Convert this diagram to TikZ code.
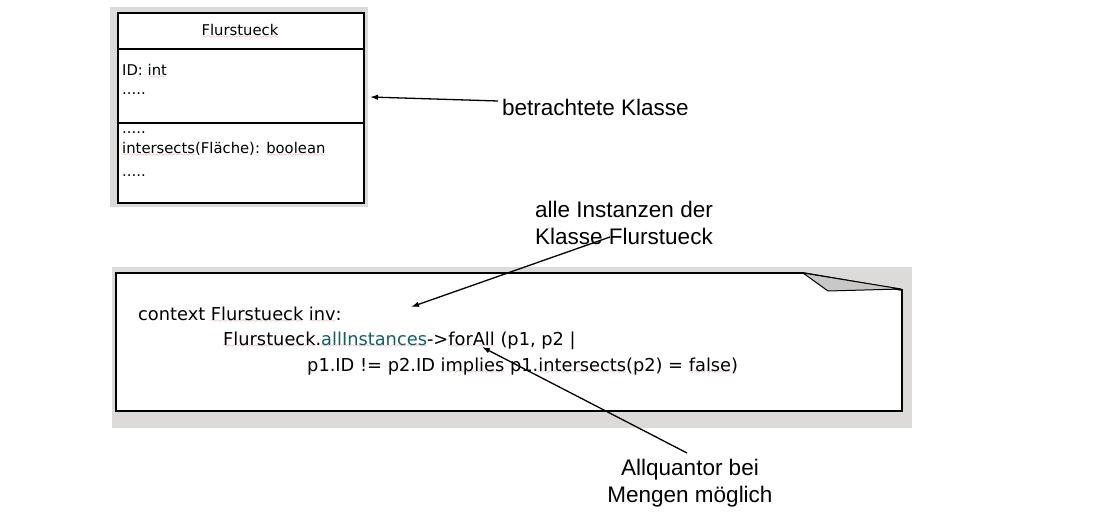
\documentclass[tikz,border=0pt]{standalone}
\usepackage{fontspec}
\usetikzlibrary{arrows.meta}
\setmainfont{DejaVu Sans}
\newfontfamily\annfont{Liberation Sans}
\font\mywavefont=lasy6 \relax
\definecolor{spellred}{RGB}{225,95,95}
\definecolor{bggray}{RGB}{221,218,218}
\definecolor{flapgray}{RGB}{200,200,200}
\definecolor{oclteal}{RGB}{20,95,100}
\newcommand\spl[1]{\setbox0\hbox{#1}\rlap{\textcolor{spellred}{\lower2.6pt\hbox to\wd0{\xleaders\hbox{\mywavefont\char58}\hfill}}}\box0\relax}
\tikzset{
  boxpart/.style={draw, fill=white, line width=1.8pt, minimum width=246pt, inner sep=0pt, anchor=north west},
  clstext/.style={anchor=base west, inner sep=0pt, font=\fontsize{14.8}{17}\selectfont},
  notetext/.style={anchor=base west, inner sep=0pt, font=\fontsize{17.8}{22}\selectfont},
  anntext/.style={inner sep=0pt, align=center, font=\annfont\fontsize{22.5}{26.5}\selectfont},
  pointer/.style={line width=1.3pt, -{Latex[length=8pt,width=5.5pt]}}
}
\begin{document}
\begin{tikzpicture}[x=1pt,y=-1pt]
\useasboundingbox (0,0) rectangle (1107,513);
% grey backdrops
\fill[bggray] (110,7) rectangle (368,207);
\fill[bggray] (112,267) rectangle (912,428);
% class box
\node[boxpart, minimum height=36pt] (hdr) at (117,12) {};
\node[boxpart, minimum height=74pt] (attr) at (117,48) {};
\node[boxpart, minimum height=80pt] (ops) at (117,122) {};
\node[anchor=base, inner sep=0pt, font=\fontsize{14.8}{17}\selectfont] (cname) at (240,36) {\spl{Flurstueck}};
\node[clstext] (a1) at (122,76) {ID: \spl{int}};
\node[clstext] (a2) at (122,95) {.....};
\node[clstext] (o1) at (122,134) {.....};
\node[clstext] (o2) at (122,154) {\spl{intersects}(Fläche): \spl{boolean}};
\node[clstext] (o3) at (122,177) {.....};
% note
\draw[line width=1.8pt, fill=white, line join=miter] (116,273) -- (803,273) -- (902,290) -- (902,411) -- (116,411) -- cycle;
\draw[line width=1pt, fill=flapgray, line join=round] (803,273) -- (828,291) -- (901,289) -- cycle;
\node[notetext] (n1) at (138,320) {context \spl{Flurstueck} \spl{inv}:};
\node[notetext] (n2) at (223,345) {\spl{Flurstueck}.\textcolor{oclteal}{\spl{allInstances}}->\spl{forAll} (p1, p2 |};
\node[notetext] (n3) at (307,371) {p1.ID != p2.ID \spl{implies} p1.\spl{intersects}(p2) = \spl{false})};
% annotations
\node[anntext, anchor=base west] (lblA) at (502,116) {betrachtete Klasse};
\node[anntext, anchor=base] (lblB) at (624,244) {alle Instanzen der\\Klasse Flurstueck};
\node[anntext, anchor=base] (lblC) at (690,502) {Allquantor bei\\Mengen möglich};
\coordinate (sA) at (498,101);
\coordinate (tA) at (370,97);
\coordinate (sB) at (610,237);
\coordinate (tB) at (411,307);
\coordinate (sC) at (687,453);
\coordinate (tC) at (482,347);
\draw[pointer] (sA) -- (tA);
\draw[pointer] (sB) -- (tB);
\draw[pointer] (sC) -- (tC);
\end{tikzpicture}
\end{document}
